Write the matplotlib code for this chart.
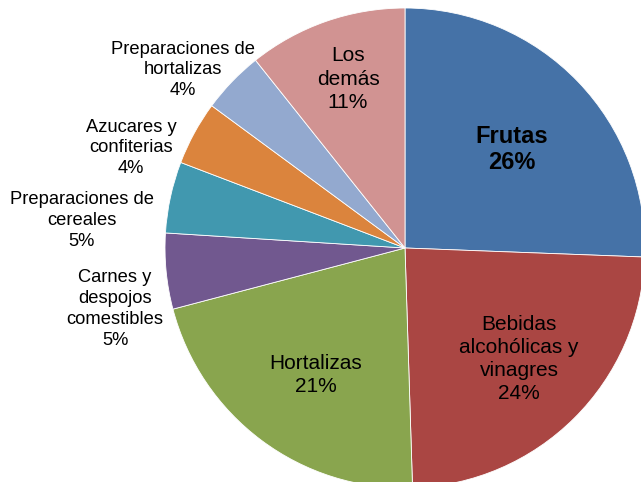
import matplotlib.pyplot as plt

plt.rcParams['font.family'] = ['Liberation Sans', 'DejaVu Sans']

categorias = ['Frutas', 'Bebidas\nalcohólicas y\nvinagres', 'Hortalizas',
              'Carnes y\ndespojos\ncomestibles', 'Preparaciones de\ncereales',
              'Azucares y\nconfiterias', 'Preparaciones de\nhortalizas',
              'Los\ndemás']
valores = [25.6, 23.9, 21.4, 5.1, 4.8, 4.3, 4.2, 10.7]
colores = ['#4572A7', '#AA4643', '#89A54E', '#71588F', '#4198AF',
           '#DB843D', '#93A9CF', '#D19392']

# label positions (data coords, pie radius = 1)
pos_labels = [(0.446, 0.41), (0.475, -0.462), (-0.371, -0.529), (-1.208, -0.254),
              (-1.346, 0.113), (-1.142, 0.417), (-0.925, 0.742), (-0.2375, 0.704)]
tam_labels = [17, 15, 15, 13.2, 13.2, 13.2, 13.2, 15]
esp_labels = [1.17, 1.28, 1.28, 1.3, 1.3, 1.3, 1.3, 1.28]

fig = plt.figure(figsize=(6.41, 4.82), dpi=100)
ax = fig.add_axes([165 / 641, -6 / 482, 480 / 641, 480 / 482])

ax.pie(valores, colors=colores, startangle=90, counterclock=False, radius=1,
       wedgeprops=dict(edgecolor='white', linewidth=0.6))
ax.set_xlim(-1, 1)
ax.set_ylim(-1, 1)
ax.set_aspect('auto')
ax.axis('off')

total = sum(valores)
for i in range(len(valores)):
    pct = round(valores[i] / total * 100)
    txt = categorias[i] + '\n' + str(pct) + '%'
    x, y = pos_labels[i]
    ax.text(x, y, txt, ha='center', va='center', fontsize=tam_labels[i],
            fontweight='bold' if i == 0 else 'normal', linespacing=esp_labels[i],
            color='black')

fig.savefig('out.png', dpi=100)
